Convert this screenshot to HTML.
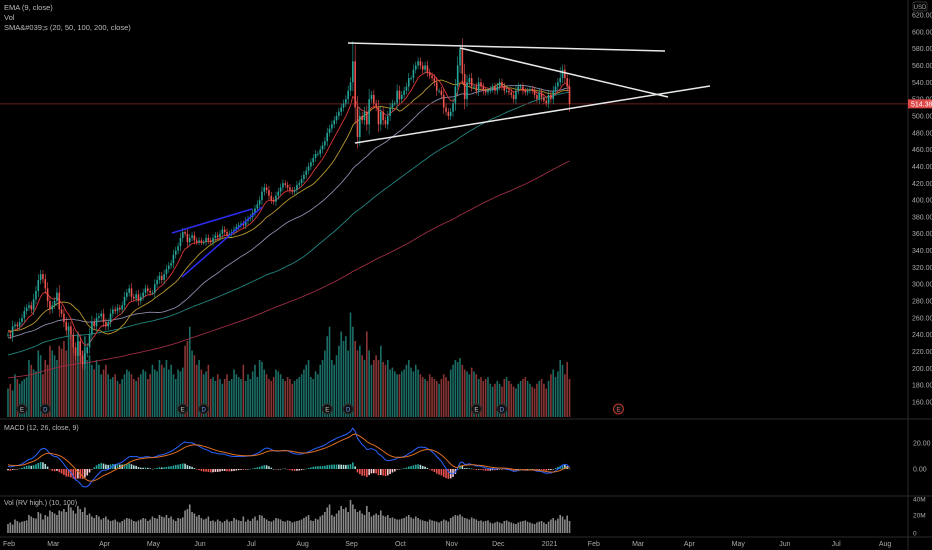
<!DOCTYPE html>
<html><head><meta charset="utf-8">
<style>
html,body{margin:0;padding:0;background:#000;}
svg{display:block;font-family:"Liberation Sans",sans-serif;}
</style></head>
<body>
<svg id="chart" width="932" height="550" viewBox="0 0 932 550">
<rect x="0" y="0" width="932" height="550" fill="#000"/>
<g id="panes"></g>
<g id="vol"></g>
<g id="mas"></g>
<g id="candles"></g>
<g id="draw"></g>
<g id="macd"></g>
<g id="rv"></g>
<g id="axes"></g>
<text x="4" y="10" font-size="7.5" fill="#bbb">EMA (9, close)</text>
<text x="4" y="20" font-size="7.5" fill="#bbb">Vol</text>
<text x="4" y="30" font-size="7.5" fill="#bbb">SMA&amp;#039;s (20, 50, 100, 200, close)</text>
<text x="4" y="430" font-size="7" fill="#bbb">MACD (12, 26, close, 9)</text>
<text x="4" y="505" font-size="7" fill="#bbb">Vol (RV high.) (10, 100)</text>
</svg>
<script>
const priorMonthly=[180,140,160,168,165,175,200,212,235,245];
const closes=[
240,238,250,252,250,255,260,268,272,275,270,282,292,305,312,306,295,280,270,
275,280,290,270,265,255,245,250,240,225,215,232,215,205,218,225,240,255,250,260,262,265,
255,250,255,265,270,268,272,270,275,285,290,295,285,283,288,280,285,290,295,292,290,
290,300,305,310,305,312,318,322,325,335,340,345,355,362,360,350,355,358,352,350,
352,350,350,355,352,350,355,358,356,360,365,362,358,360,362,365,368,370,372,370,375,378,
380,385,390,395,400,410,415,412,405,400,398,405,410,415,420,418,415,412,410,412,418,420,
425,430,435,440,445,450,455,455,460,465,470,480,485,490,495,500,505,510,515,520,530,
540,565,510,475,500,495,505,490,520,525,515,510,490,505,495,490,500,510,515,515,530,
520,525,530,535,545,545,555,560,565,560,555,560,552,548,545,540,530,530,525,510,505,500,
505,515,535,560,580,550,520,540,545,535,535,530,540,535,530,528,530,532,535,530,
535,540,535,530,530,528,525,520,530,535,535,530,528,530,532,530,525,520,528,522,518,515,
525,520,530,535,540,545,555,545,535,514.38];
const highSpikes=[[148,589],[194,585],[237,558]];
const volumes=[
30,35,28,45,40,35,38,40,42,60,55,50,48,70,65,45,60,55,75,
70,65,60,75,72,80,70,95,85,75,65,90,80,70,85,60,65,55,50,60,55,45,
50,55,45,40,42,45,38,35,40,45,50,48,45,40,38,42,45,50,48,40,45,
55,50,48,60,55,52,60,50,55,45,40,50,48,52,75,80,95,70,65,55,
60,50,45,48,55,40,42,38,45,40,35,40,45,38,40,50,45,42,40,55,38,45,
40,48,55,42,60,58,50,45,40,38,42,50,48,45,40,38,42,40,35,38,40,42,
45,50,55,60,42,40,48,45,55,60,70,85,95,60,55,65,75,90,80,85,70,
110,95,80,70,75,65,60,90,70,55,60,65,60,75,58,55,60,50,52,48,45,
45,48,50,55,60,52,48,55,50,45,42,40,38,45,42,40,38,35,40,45,42,38,
50,55,60,58,62,55,50,48,45,52,48,45,40,42,38,40,42,35,32,35,
38,35,32,40,42,38,35,32,30,35,38,40,42,38,35,32,30,35,38,40,35,30,
38,45,50,42,48,60,55,45,58,40];
const priceTicks=[620,600,580,560,540,520,500,480,460,440,420,400,380,360,340,320,300,280,260,240,220,200,180,160];
const monthLabels=["Feb","Mar","Apr","May","Jun","Jul","Aug","Sep","Oct","Nov","Dec","2021","Feb","Mar","Apr","May","Jun","Jul","Aug"];
const monthBarIdx=[0,19,41,62,82,104,126,147,168,190,210,232,251,270,292,313,333,355,376];
const events=[["E",6],["D",16],["E",75],["D",84],["E",137],["D",146],["E",201],["D",212],["E",262]];

const NS="http://www.w3.org/2000/svg";
function mk(tag,attrs,parent){const e=document.createElementNS(NS,tag);for(const k in attrs)e.setAttribute(k,attrs[k]);parent.appendChild(e);return e;}
const X=i=>8+i*2.33;
const Y=p=>15+(620-p)*0.8413;
const MZ=469, MS=1.3; const MY=v=>MZ-v*MS;
const VY=v=>417-v*0.95;
const RY=v=>533-v*0.3;

const pn=document.getElementById('panes');
[419,496,537].forEach(y=>{const l=mk('line',{x1:0,x2:932,y1:y,y2:y,stroke:'#2a2a2a','stroke-width':1},pn);
});
const ax=mk('line',{x1:908,x2:908,y1:0,y2:550,stroke:'#2a2a2a','stroke-width':1},pn);


const vg=document.getElementById('vol');
closes.forEach((c,i)=>{const o=i?closes[i-1]:c;const up=c>=o;
const r=mk('rect',{x:X(i)-0.8,y:VY(volumes[i]),width:1.6,height:417-VY(volumes[i]),fill:up?'#1b6e66':'#8a3535'},vg);
});

const hist=[];priorMonthly.forEach(p=>{for(let k=0;k<21;k++)hist.push(p);});
const all=hist.concat(closes);const H=hist.length;
function sma(n){return closes.map((c,i)=>{let s=0;for(let k=0;k<n;k++)s+=all[H+i-k];return s/n;});}
function emaArr(src,n){const a=2/(n+1);let e=src[0];return src.map(v=>(e=v*a+e*(1-a)));}
const emaAll=emaArr(all,9).slice(H);
const mg=document.getElementById('mas');
function line(arr,col,name,g,yf,w){const d=arr.map((v,i)=>(i?'L':'M')+X(i).toFixed(1)+' '+yf(v).toFixed(1)).join(' ');
const p=mk('path',{d:d,fill:'none',stroke:col,'stroke-width':w||1},g);}
line(sma(200),'#9b2d42','sma-200-line',mg,Y,0.9);
line(sma(100),'#22857f','sma-100-line',mg,Y,0.9);
line(sma(50),'#8a8aa8','sma-50-line',mg,Y,0.9);
line(sma(20),'#b8952e','sma-20-line',mg,Y,0.9);
line(emaAll,'#d93636','ema-9-line',mg,Y,0.9);

const pl=mk('line',{x1:0,x2:908,y1:Y(514.38),y2:Y(514.38),stroke:'#6b1e1e','stroke-width':1},mg);


const cg=document.getElementById('candles');
closes.forEach((c,i)=>{const o=i?closes[i-1]:c;const up=c>=o;const col=up?'#26a69a':'#ef5350';
let hi=Math.max(o,c)+3+Math.abs(c-o)*0.3,lo=Math.min(o,c)-3-Math.abs(c-o)*0.3;
highSpikes.forEach(s=>{if(s[0]===i)hi=s[1];});
const w=mk('line',{x1:X(i),x2:X(i),y1:Y(hi),y2:Y(lo),stroke:col,'stroke-width':0.6},cg);

const top=Y(Math.max(o,c)),bh=Math.max(1,Y(Math.min(o,c))-top);
const r=mk('rect',{x:X(i)-0.8,y:top,width:1.6,height:bh,fill:col},cg);
});

const dg=document.getElementById('draw');
[[348,43,665,51,'#e8e8e8'],[460,48,668,97,'#e8e8e8'],[355,143,710,86,'#e8e8e8'],
 [172,233,252,209,'#2d2df0'],[182,277,262,207,'#2d2df0']].forEach(t=>{
const l=mk('line',{x1:t[0],y1:t[1],x2:t[2],y2:t[3],stroke:t[4],'stroke-width':1.5},dg);
});

events.forEach(e=>{const x=X(e[1]);const fut=e[1]>245;
const c=mk('circle',{cx:x,cy:409,r:5,fill:'#111',stroke:fut?'#c0392b':'#333','stroke-width':1},dg);

const t=mk('text',{x:x,y:411.5,'font-size':6,'text-anchor':'middle',fill:e[0]==='E'?(fut?'#e06060':'#ccc'):'#6fa0ff'},dg);t.textContent=e[0];});

const e12=emaArr(all,12),e26=emaArr(all,26);
const macdAll=e12.map((v,i)=>v-e26[i]);const sigAll=emaArr(macdAll,9);
const macd=macdAll.slice(H),sig=sigAll.slice(H);
const mcg=document.getElementById('macd');
const clip=v=>Math.max(-35,Math.min(38,v));
macd.forEach((m,i)=>{const h=m-sig[i];const ph=i?macd[i-1]-sig[i-1]:h;
const col=h>=0?(h>=ph?'#26a69a':'#b2dfdb'):(h<ph?'#ef5350':'#ffcdd2');
const y0=MY(0),y1=MY(clip(h));
const r=mk('rect',{x:X(i)-0.8,y:Math.min(y0,y1),width:1.6,height:Math.max(0.5,Math.abs(y1-y0)),fill:col},mcg);
});
line(macd.map(clip),'#2962ff','macd-line',mcg,MY);
line(sig.map(clip),'#e07020','signal-line',mcg,MY);

const rg=document.getElementById('rv');
volumes.forEach((v,i)=>{const r=mk('rect',{x:X(i)-0.8,y:RY(v),width:1.6,height:533-RY(v),fill:'#8a8a8a'},rg);
});

const ag=document.getElementById('axes');
priceTicks.forEach(p=>{const t=mk('text',{x:912,y:Y(p)+2.5,'font-size':7,fill:'#aaa'},ag);t.textContent=p.toFixed(2);
});
const bx=mk('rect',{x:908,y:Y(514.38)-4.5,width:24,height:9,fill:'#e04848'},ag);

const bt=mk('text',{x:911,y:Y(514.38)+2.5,'font-size':7,fill:'#fff'},ag);bt.textContent='514.38';
const ub=mk('rect',{x:913,y:2,width:14,height:9,fill:'none',stroke:'#444','stroke-width':0.7,rx:1.5},ag);

const ut=mk('text',{x:920,y:9,'font-size':6,fill:'#aaa','text-anchor':'middle'},ag);ut.textContent='USD';
[['20.00',MY(20)],['0.00',MY(0)]].forEach(a=>{const t=mk('text',{x:913,y:a[1]+2.5,'font-size':7,fill:'#aaa'},ag);t.textContent=a[0];
});
[['40M',499],['20M',515],['0',533]].forEach(a=>{
const t=mk('text',{x:913,y:a[1]+2.5,'font-size':6.5,fill:'#aaa'},ag);t.textContent=a[0];
});
monthLabels.forEach((m,k)=>{const t=mk('text',{x:X(monthBarIdx[k])+1,y:546,'font-size':7,fill:'#aaa','text-anchor':'middle'},ag);t.textContent=m;
});
</script>
</body></html>
